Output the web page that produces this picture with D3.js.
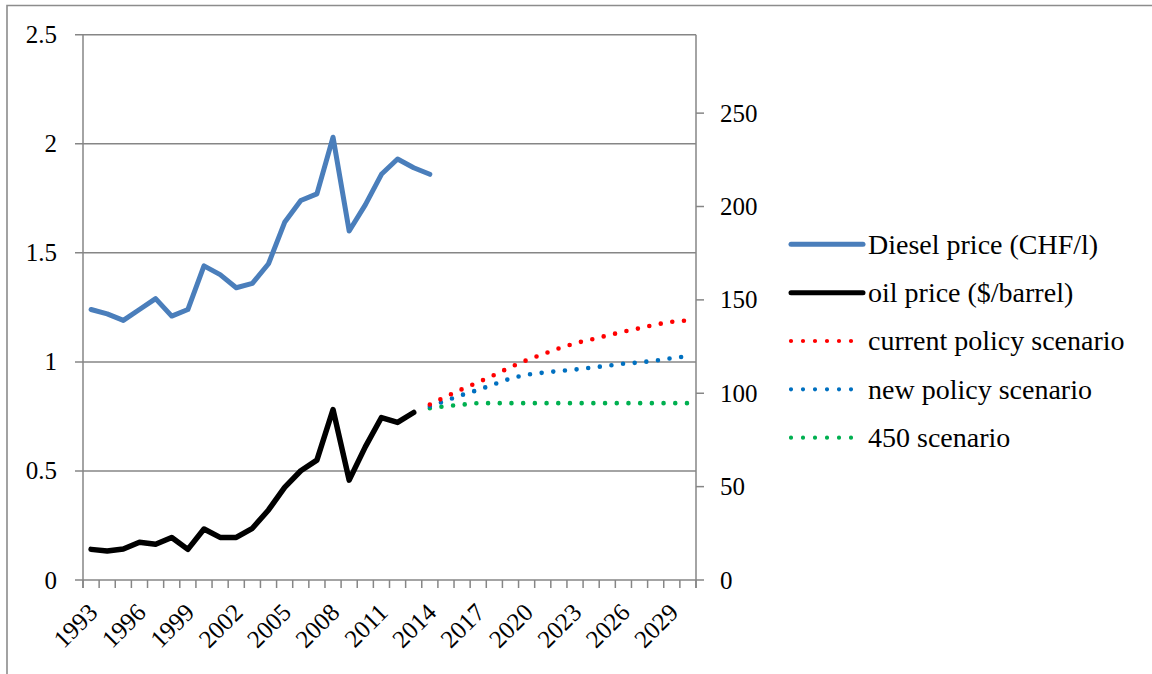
<!DOCTYPE html>
<html>
<head>
<meta charset="utf-8">
<script src="https://cdn.jsdelivr.net/npm/d3@7"></script>
<style>
  html, body { margin: 0; padding: 0; background: #fff; }
  svg { display: block; }
  text { font-family: "Liberation Serif", "DejaVu Serif", serif; fill: #000; }
</style>
</head>
<body>
<svg id="chart" width="1152" height="674"></svg>
<script>
// Years on the category axis
const years = d3.range(1993, 2031);
const labelYears = years.filter(y => (y - 1993) % 3 === 0);

// Diesel price, CHF per litre (left axis)
const dieselYears = d3.range(1993, 2015);
const dieselPrice = [1.24, 1.22, 1.19, 1.24, 1.29, 1.21, 1.24, 1.44, 1.40, 1.34, 1.36,
                     1.45, 1.64, 1.74, 1.77, 2.03, 1.60, 1.72, 1.86, 1.93, 1.89, 1.86];

// Oil price, $ per barrel (right axis)
const oilYears = d3.range(1993, 2014);
const oilPrice = [16.4, 15.5, 16.6, 20.2, 19.1, 22.8, 16.4, 27.3, 22.8, 22.8, 27.7,
                  37.5, 49.6, 58.5, 64.2, 91.3, 53.5, 71.3, 87.0, 84.4, 89.7];

// Oil price scenarios, $ per barrel (right axis)
const scenarioYears = d3.range(2014, 2031);
const currentPolicy = [94.0, 98.2, 102.2, 105.9, 109.8, 114.0, 117.7, 120.9, 124.0,
                       126.8, 128.8, 130.9, 133.0, 134.8, 136.8, 138.3, 139.0];
const newPolicy = [93.1, 96.0, 99.1, 101.8, 104.9, 107.9, 110.0, 111.0, 111.9,
                   112.7, 113.7, 114.7, 115.8, 116.5, 117.5, 118.8, 119.9];
const scenario450 = [92.0, 93.1, 93.9, 94.7, 94.7, 94.7, 94.7, 94.7, 94.7,
                     94.7, 94.7, 94.7, 94.7, 94.7, 94.7, 94.7, 94.7];

// Axis ticks
const leftTicks = [0, 0.5, 1, 1.5, 2, 2.5];
const rightTicks = [0, 50, 100, 150, 200, 250];
const leftMax = 2.5;
const rightMax = 292;

// Legend entries
const legendLabels = ["Diesel price (CHF/l)", "oil price ($/barrel)", "current policy scenario",
                      "new policy scenario", "450 scenario"];
const legendColors = ["#4a7ebb", "#000000", "#ff0000", "#0070c0", "#00b050"];

const svg = d3.select("#chart");
const plot = { left: 83, right: 696, top: 34.7, bottom: 580 };
const gridColor = "#868686";

const x = d3.scaleBand().domain(years).range([plot.left, plot.right]).padding(0);
const xc = yr => x(yr) + x.bandwidth() / 2;
const yL = d3.scaleLinear().domain([0, leftMax]).range([plot.bottom, plot.top]);
const yR = d3.scaleLinear().domain([0, rightMax]).range([plot.bottom, plot.top]);

// Outer frame (top and left edges)
svg.append("path")
  .attr("d", "M7,674 L7,5.5 L1152,5.5")
  .attr("fill", "none").attr("stroke", "#8c8c8c").attr("stroke-width", 1.6);

// Horizontal gridlines with left tick marks
const gl = svg.append("g");
gl.selectAll("line.grid").data(leftTicks).join("line")
  .attr("x1", plot.left - 8).attr("x2", plot.right)
  .attr("y1", d => yL(d)).attr("y2", d => yL(d))
  .attr("stroke", gridColor).attr("stroke-width", 1.5);
gl.selectAll("text").data(leftTicks).join("text")
  .attr("x", 57).attr("y", d => yL(d)).attr("dy", "0.34em")
  .attr("text-anchor", "end").attr("font-size", 25)
  .text(d => d);

// Left and right axis lines
svg.append("line").attr("x1", plot.left).attr("x2", plot.left)
  .attr("y1", plot.top).attr("y2", plot.bottom + 8)
  .attr("stroke", gridColor).attr("stroke-width", 1.5);
svg.append("line").attr("x1", plot.right).attr("x2", plot.right)
  .attr("y1", plot.top).attr("y2", plot.bottom + 8)
  .attr("stroke", gridColor).attr("stroke-width", 1.5);

// Right axis ticks and labels
const gr = svg.append("g");
gr.selectAll("line").data(rightTicks).join("line")
  .attr("x1", plot.right).attr("x2", plot.right + 8)
  .attr("y1", d => yR(d)).attr("y2", d => yR(d))
  .attr("stroke", gridColor).attr("stroke-width", 1.5);
gr.selectAll("text").data(rightTicks).join("text")
  .attr("x", 720).attr("y", d => yR(d)).attr("dy", "0.34em")
  .attr("text-anchor", "start").attr("font-size", 25)
  .text(d => d);

// Category tick marks at band boundaries
const bounds = years.map(yr => x(yr)).concat([plot.right]);
svg.append("g").selectAll("line").data(bounds).join("line")
  .attr("x1", d => d).attr("x2", d => d)
  .attr("y1", plot.bottom).attr("y2", plot.bottom + 8)
  .attr("stroke", gridColor).attr("stroke-width", 1.5);

// Rotated year labels
svg.append("g").selectAll("text").data(labelYears).join("text")
  .attr("transform", d => `translate(${xc(d) + 8},${plot.bottom + 34}) rotate(-45)`)
  .attr("text-anchor", "end").attr("font-size", 25)
  .text(d => d);

// Lines
const lineL = d3.line().x(d => xc(d[0])).y(d => yL(d[1]));
const lineR = d3.line().x(d => xc(d[0])).y(d => yR(d[1]));

const dotted = (vals, color) => {
  svg.append("path")
    .attr("d", lineR(d3.zip(scenarioYears, vals)))
    .attr("fill", "none").attr("stroke", color).attr("stroke-width", 4.6)
    .attr("stroke-linecap", "round").attr("stroke-dasharray", "0 11.7");
};
dotted(scenario450, legendColors[4]);
dotted(newPolicy, legendColors[3]);
dotted(currentPolicy, legendColors[2]);

svg.append("path")
  .attr("d", lineR(d3.zip(oilYears, oilPrice)))
  .attr("fill", "none").attr("stroke", legendColors[1]).attr("stroke-width", 5.5)
  .attr("stroke-linejoin", "round").attr("stroke-linecap", "round");

svg.append("path")
  .attr("d", lineL(d3.zip(dieselYears, dieselPrice)))
  .attr("fill", "none").attr("stroke", legendColors[0]).attr("stroke-width", 5)
  .attr("stroke-linejoin", "round").attr("stroke-linecap", "round");

// Legend
const lg = svg.append("g");
legendLabels.forEach((lab, i) => {
  const ly = 244.3 + i * 48.35;
  const sym = lg.append("line")
    .attr("x1", 791).attr("x2", i < 2 ? 863 : 856)
    .attr("y1", ly).attr("y2", ly)
    .attr("stroke", legendColors[i]).attr("stroke-linecap", "round");
  if (i < 2) {
    sym.attr("stroke-width", 5);
  } else {
    sym.attr("stroke-width", 4.2).attr("stroke-dasharray", "0 12");
  }
  lg.append("text").attr("x", 868).attr("y", ly).attr("dy", "0.33em")
    .attr("font-size", 28).text(lab);
});
</script>
</body>
</html>
